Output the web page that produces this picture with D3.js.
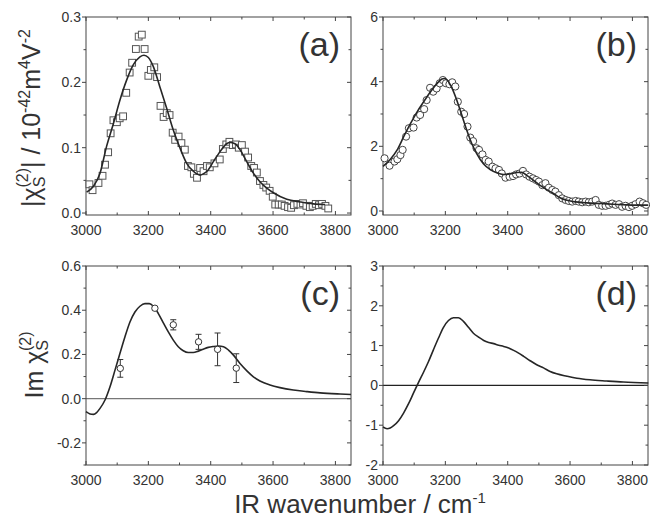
<!DOCTYPE html>
<html><head><meta charset="utf-8">
<script src="https://cdn.jsdelivr.net/npm/d3@7"></script>
<style>body{margin:0;background:#fff}svg{display:block}text{font-family:"Liberation Sans",Arial,sans-serif;fill:#333}</style>
</head><body><svg id="c" width="650" height="519"></svg>
<script>
// ---- Panel (a): |chi| data (squares) and fit ----
const waveA = [3011,3021,3040,3053,3061,3071,3079,3088,3099,3108,3119,3129,3140,3148,3160,3169,3179,3188,3200,3208,3219,3228,3239,3249,3259,3268,3278,3286,3297,3306,3317,3327,3338,3346,3356,3366,3377,3388,3397,3412,3429,3439,3450,3460,3471,3481,3490,3500,3510,3520,3530,3539,3548,3558,3569,3578,3589,3599,3607,3618,3628,3637,3648,3658,3667,3678,3688,3696,3707,3718,3727,3737,3747,3757,3768,3777];
const chiA  = [0.044,0.035,0.046,0.057,0.074,0.093,0.122,0.142,0.139,0.145,0.148,0.184,0.215,0.230,0.251,0.270,0.273,0.251,0.210,0.219,0.223,0.208,0.164,0.147,0.153,0.150,0.123,0.112,0.117,0.107,0.097,0.072,0.070,0.060,0.054,0.069,0.064,0.072,0.070,0.076,0.082,0.098,0.105,0.109,0.104,0.105,0.100,0.104,0.094,0.085,0.072,0.069,0.062,0.049,0.043,0.039,0.034,0.025,0.013,0.013,0.013,0.011,0.009,0.008,0.012,0.014,0.013,0.015,0.011,0.009,0.011,0.014,0.012,0.014,0.011,0.007];
const fitXA = [3002,3024,3045,3066,3088,3109,3130,3152,3173,3186,3200,3216,3237,3259,3280,3302,3323,3344,3366,3376,3392,3409,3430,3451,3462,3478,3494,3515,3537,3558,3580,3601,3644,3687,3729,3767];
const fitYA = [0.032,0.041,0.061,0.102,0.137,0.173,0.203,0.227,0.239,0.2415,0.238,0.224,0.193,0.160,0.127,0.099,0.076,0.064,0.058,0.060,0.066,0.079,0.094,0.106,0.108,0.106,0.097,0.079,0.061,0.048,0.038,0.031,0.021,0.017,0.014,0.013];

// ---- Panel (b): circles and fit ----
const waveB = [3005,3021,3037,3046,3056,3063,3074,3083,3098,3108,3119,3132,3140,3151,3161,3172,3182,3192,3202,3213,3222,3232,3240,3251,3260,3271,3280,3289,3300,3308,3319,3329,3339,3351,3361,3372,3381,3393,3406,3417,3427,3438,3449,3459,3470,3481,3491,3500,3511,3521,3532,3543,3553,3564,3575,3586,3596,3607,3618,3628,3639,3650,3660,3671,3682,3692,3703,3714,3725,3735,3746,3757,3767,3778,3789,3799,3810,3823,3834,3844];
const chiB  = [1.63,1.40,1.53,1.60,1.73,1.89,2.30,2.56,2.58,2.89,2.97,3.15,3.43,3.81,3.69,3.79,3.95,4.05,3.95,3.92,3.98,3.85,3.38,3.07,3.00,2.61,2.27,2.16,1.94,1.89,1.75,1.58,1.53,1.37,1.32,1.27,1.16,1.03,1.06,1.08,1.13,1.16,1.24,1.13,1.06,1.01,0.96,0.91,0.80,0.86,0.72,0.65,0.60,0.49,0.39,0.34,0.31,0.29,0.31,0.29,0.27,0.29,0.27,0.29,0.34,0.19,0.16,0.16,0.19,0.23,0.19,0.21,0.13,0.16,0.12,0.16,0.21,0.29,0.24,0.19];
const fitXB = [3000,3023,3045,3066,3088,3109,3130,3152,3173,3189,3197,3205,3221,3237,3253,3269,3285,3301,3322,3344,3365,3386,3408,3429,3445,3461,3483,3504,3525,3547,3568,3590,3611,3654,3696,3739,3782,3824,3851];
const fitYB = [1.38,1.59,1.88,2.29,2.70,3.06,3.37,3.68,3.94,4.08,4.10,4.06,3.81,3.42,2.96,2.49,2.08,1.77,1.46,1.28,1.18,1.13,1.15,1.19,1.20,1.10,0.95,0.79,0.66,0.54,0.41,0.33,0.29,0.25,0.23,0.21,0.19,0.18,0.18];

// ---- Panel (c): Im chi curve and points with error bars ----
const fitXC = [3000,3013,3024,3034,3045,3061,3077,3093,3109,3125,3141,3157,3173,3189,3203,3216,3232,3248,3264,3280,3296,3312,3328,3344,3360,3376,3392,3409,3425,3441,3457,3473,3494,3516,3537,3558,3590,3622,3665,3708,3751,3815,3850];
const fitYC = [-0.059,-0.069,-0.071,-0.063,-0.044,-0.006,0.054,0.129,0.205,0.280,0.347,0.392,0.418,0.430,0.430,0.418,0.385,0.343,0.302,0.265,0.235,0.217,0.209,0.209,0.215,0.224,0.232,0.236,0.238,0.235,0.220,0.197,0.159,0.126,0.099,0.080,0.062,0.050,0.039,0.032,0.026,0.021,0.019];
const ptXC = [3110,3221,3280,3361,3422,3482];
const ptYC = [0.137,0.409,0.334,0.257,0.223,0.138];
const ptErrC = [0.040,0.008,0.023,0.034,0.074,0.065];

// ---- Panel (d): Im chi curve ----
const fitXD = [3000,3013,3023,3034,3050,3066,3082,3098,3114,3130,3146,3162,3178,3194,3210,3226,3242,3258,3274,3290,3307,3323,3339,3355,3371,3387,3403,3419,3435,3451,3472,3493,3515,3536,3557,3590,3622,3664,3718,3771,3851];
const fitYD = [-1.046,-1.088,-1.071,-1.013,-0.887,-0.695,-0.46,-0.19,0.075,0.33,0.60,0.90,1.19,1.46,1.63,1.70,1.70,1.61,1.46,1.31,1.21,1.13,1.08,1.05,1.01,0.98,0.94,0.88,0.81,0.73,0.62,0.52,0.44,0.35,0.29,0.23,0.18,0.14,0.11,0.084,0.06];

// ---- Axis ticks ----
const xTicks = [3000,3200,3400,3600,3800];
const xMinor = [3100,3300,3500,3700];
const yTicksA = [0.0,0.1,0.2,0.3], yTickLabA = ["0.0","0.1","0.2","0.3"];
const yTicksB = [0,2,4,6];
const yTicksC = [-0.2,0.0,0.2,0.4,0.6], yTickLabC = ["-0.2","0.0","0.2","0.4","0.6"];
const yTicksD = [-2,-1,0,1,2,3];

const svg = d3.select("#c");
const ink = "#262626";

function panel(o){
  const x = d3.scaleLinear().domain([3000,3850]).range([o.x0,o.x1]);
  const y = d3.scaleLinear().domain(o.yd).range([o.y1,o.y0]);
  const g = svg.append("g");
  if (o.zero) g.append("line").attr("x1",o.x0).attr("x2",o.x1).attr("y1",y(0)).attr("y2",y(0))
      .attr("stroke",o.zero).attr("stroke-width",1.2);
  g.append("rect").attr("x",o.x0).attr("y",o.y0).attr("width",o.x1-o.x0).attr("height",o.y1-o.y0)
    .attr("fill","none").attr("stroke","#444").attr("stroke-width",1);
  const allX = xTicks.concat(xMinor);
  allX.forEach(v=>{
    const L = xTicks.includes(v)?4:2.5;
    g.append("line").attr("x1",x(v)).attr("x2",x(v)).attr("y1",o.y1).attr("y2",o.y1-L).attr("stroke","#444");
    g.append("line").attr("x1",x(v)).attr("x2",x(v)).attr("y1",o.y0).attr("y2",o.y0+L).attr("stroke","#444");
  });
  xTicks.forEach(v=>{
    g.append("text").attr("x",x(v)).attr("y",o.y1+20).attr("text-anchor","middle").attr("font-size",14).text(v);
  });
  o.yt.forEach((v,i)=>{
    g.append("line").attr("x1",o.x0).attr("x2",o.x0-4).attr("y1",y(v)).attr("y2",y(v)).attr("stroke","#444");
    g.append("line").attr("x1",o.x1).attr("x2",o.x1-4).attr("y1",y(v)).attr("y2",y(v)).attr("stroke","#444");
    g.append("text").attr("x",o.x0-5).attr("y",y(v)+5).attr("text-anchor","end").attr("font-size",14).text(o.yl?o.yl[i]:v);
  });
  o.ym.forEach(v=>{
    g.append("line").attr("x1",o.x0).attr("x2",o.x0-2.5).attr("y1",y(v)).attr("y2",y(v)).attr("stroke","#444");
    g.append("line").attr("x1",o.x1).attr("x2",o.x1-2.5).attr("y1",y(v)).attr("y2",y(v)).attr("stroke","#444");
  });
  g.append("text").attr("x",o.x1-11).attr("y",o.y0+39).attr("text-anchor","end").attr("font-size",34).text(o.lab);
  return {x,y,g};
}

const A = panel({x0:86,x1:351,y0:17,y1:215,yd:[-0.003,0.3],yt:yTicksA,yl:yTickLabA,ym:[0.05,0.15,0.25],lab:"(a)"});
const B = panel({x0:383,x1:648,y0:17,y1:215,yd:[-0.124,6],yt:yTicksB,ym:[1,3,5],lab:"(b)"});
const C = panel({x0:86,x1:351,y0:266,y1:465,yd:[-0.3,0.6],yt:yTicksC,yl:yTickLabC,ym:[-0.3,-0.1,0.1,0.3,0.5],lab:"(c)",zero:"#777"});
const D = panel({x0:383,x1:648,y0:266,y1:465,yd:[-2,3],yt:yTicksD,ym:[-1.5,-0.5,0.5,1.5,2.5],lab:"(d)",zero:"#222"});

function curve(P, xs, ys){
  const line = d3.line().x(d=>P.x(d[0])).y(d=>P.y(d[1])).curve(d3.curveMonotoneX);
  P.g.append("path").datum(xs.map((v,i)=>[v,ys[i]])).attr("d",line)
    .attr("fill","none").attr("stroke",ink).attr("stroke-width",1.6);
}

A.g.selectAll(".sq").data(waveA.map((v,i)=>[v,chiA[i]])).enter().append("rect")
  .attr("x",d=>A.x(d[0])-3.4).attr("y",d=>A.y(d[1])-3.4).attr("width",6.8).attr("height",6.8)
  .attr("fill","#fff").attr("stroke","#555").attr("stroke-width",1);
curve(A, fitXA, fitYA);

B.g.selectAll(".ci").data(waveB.map((v,i)=>[v,chiB[i]])).enter().append("circle")
  .attr("cx",d=>B.x(d[0])).attr("cy",d=>B.y(d[1])).attr("r",3.6)
  .attr("fill","#fff").attr("stroke","#444").attr("stroke-width",1);
curve(B, fitXB, fitYB);

curve(C, fitXC, fitYC);
ptXC.forEach((v,i)=>{
  const cx=C.x(v), lo=C.y(ptYC[i]-ptErrC[i]), hi=C.y(ptYC[i]+ptErrC[i]);
  C.g.append("line").attr("x1",cx).attr("x2",cx).attr("y1",lo).attr("y2",hi).attr("stroke","#333");
  C.g.append("line").attr("x1",cx-3).attr("x2",cx+3).attr("y1",lo).attr("y2",lo).attr("stroke","#333");
  C.g.append("line").attr("x1",cx-3).attr("x2",cx+3).attr("y1",hi).attr("y2",hi).attr("stroke","#333");
  C.g.append("circle").attr("cx",cx).attr("cy",C.y(ptYC[i])).attr("r",3.2).attr("fill","#fff").attr("stroke","#333");
});

curve(D, fitXD, fitYD);

const t1 = svg.append("text").attr("transform","translate(40,118) rotate(-90)").attr("text-anchor","middle").attr("font-size",25);
t1.append("tspan").text("|χ");
t1.append("tspan").attr("font-size",16).attr("dy",5).text("S");
t1.append("tspan").attr("font-size",16).attr("dx",-11).attr("dy",-17).text("(2)");
t1.append("tspan").attr("dy",12).text("| / 10");
t1.append("tspan").attr("font-size",16).attr("dy",-10).text("-42");
t1.append("tspan").attr("dy",10).text("m");
t1.append("tspan").attr("font-size",16).attr("dy",-10).text("4");
t1.append("tspan").attr("dy",10).text("V");
t1.append("tspan").attr("font-size",16).attr("dy",-10).text("-2");

const t2 = svg.append("text").attr("transform","translate(43,365) rotate(-90)").attr("text-anchor","middle").attr("font-size",25);
t2.append("tspan").text("Im χ");
t2.append("tspan").attr("font-size",16).attr("dy",5).text("S");
t2.append("tspan").attr("font-size",16).attr("dx",-11).attr("dy",-17).text("(2)");

const t3 = svg.append("text").attr("x",360).attr("y",513).attr("text-anchor","middle").attr("font-size",26);
t3.append("tspan").text("IR wavenumber / cm");
t3.append("tspan").attr("font-size",15).attr("dy",-10).text("-1");
</script></body></html>
